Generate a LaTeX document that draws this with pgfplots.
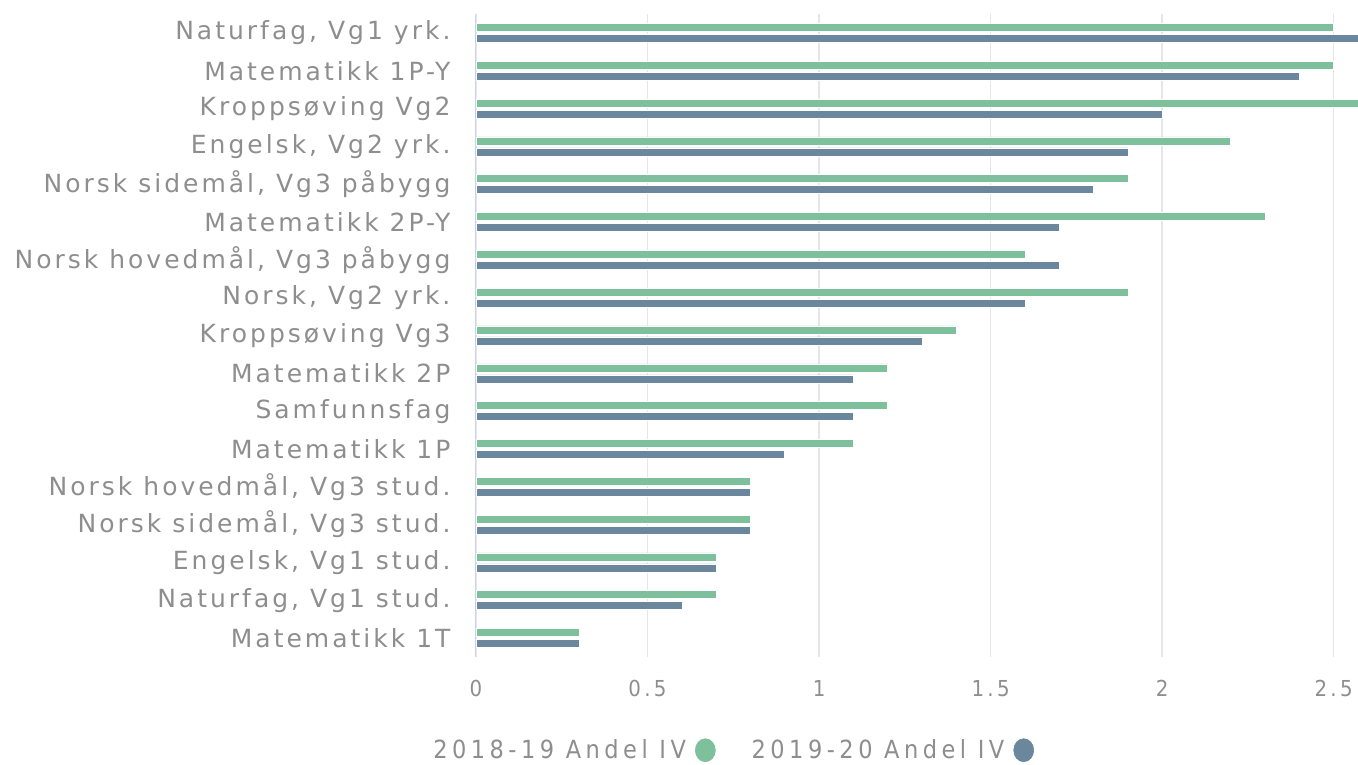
\documentclass[border=0pt]{standalone}
\usepackage{pgfplots}
\pgfplotsset{compat=1.18}
\usepackage{fontspec}
\setmainfont{DejaVu Sans}[LetterSpace=12]
\newfontfamily\condfont{DejaVu Sans Condensed}[LetterSpace=15]
\newfontfamily\legfont{DejaVu Sans Condensed}[LetterSpace=18]
\definecolor{cgreen}{HTML}{7DC09B}
\definecolor{cblue}{HTML}{6B879D}
\definecolor{ctext}{HTML}{8E8E8E}
\definecolor{cgrid}{HTML}{E6E6E6}
\definecolor{caxis}{HTML}{CCD6EB}
\pgfplotstableread{
idx a b
16 2.5 2.6
15 2.5 2.4
14 2.6 2.0
13 2.2 1.9
12 1.9 1.8
11 2.3 1.7
10 1.6 1.7
9 1.9 1.6
8 1.4 1.3
7 1.2 1.1
6 1.2 1.1
5 1.1 0.9
4 0.8 0.8
3 0.8 0.8
2 0.7 0.7
1 0.7 0.6
0 0.3 0.3
}\datatable
\begin{document}
\begin{tikzpicture}
\begin{axis}[
  scale only axis, width=882pt, height=643pt,
  xmin=0, xmax=2.571, ymin=-0.5, ymax=16.5,
  xbar, bar width=8pt,
  axis x line*=bottom, axis y line*=left,
  x axis line style={draw=none},
  y axis line style={draw=caxis, line width=1pt},
  major tick length=0pt,
  xtick={0,0.5,1,1.5,2,2.5},
  xticklabels={0,0.5,1,1.5,2,2.5},
  xmajorgrids, major grid style={draw=cgrid, line width=1.5pt},
  ytick={0,...,16},
  yticklabels={{Matematikk 1T},{Naturfag, Vg1 stud.},{Engelsk, Vg1 stud.},{Norsk sidemål, Vg3 stud.},{Norsk hovedmål, Vg3 stud.},{Matematikk 1P},{Samfunnsfag},{Matematikk 2P},{Kroppsøving Vg3},{Norsk, Vg2 yrk.},{Norsk hovedmål, Vg3 påbygg},{Matematikk 2P-Y},{Norsk sidemål, Vg3 påbygg},{Engelsk, Vg2 yrk.},{Kroppsøving Vg2},{Matematikk 1P-Y},{Naturfag, Vg1 yrk.}},
  yticklabel style={font=\fontsize{25}{28}\selectfont, text=ctext, xshift=-22pt, anchor=east},
  xticklabel style={font=\condfont\fontsize{22}{26}\selectfont, text=ctext, yshift=-20pt},
  legend plot pos=right,
  legend columns=2,
  legend style={draw=none, fill=none, at={(0.291,-0.145)}, anchor=center,
    font=\legfont\fontsize{25}{28}\selectfont, text=ctext,
    /tikz/every even column/.append style={column sep=34pt}},
]
\addplot[fill=cgreen, draw=white, line width=0.6pt, bar shift=5.5pt,
  legend image code/.code={\path (0,0); \fill[cgreen] (17pt,0) ellipse (10pt and 11.5pt);}] table[x=a, y=idx] {\datatable};
\addlegendentry{2018-19 Andel IV}
\addplot[fill=cblue, draw=white, line width=0.6pt, bar shift=-5.5pt,
  legend image code/.code={\path (0,0); \fill[cblue] (17pt,0) ellipse (10pt and 11.5pt);}] table[x=b, y=idx] {\datatable};
\addlegendentry{2019-20 Andel IV}
\end{axis}
\pgfresetboundingbox
\path (-476pt,-108pt) rectangle (882pt,657pt);
\end{tikzpicture}
\end{document}
